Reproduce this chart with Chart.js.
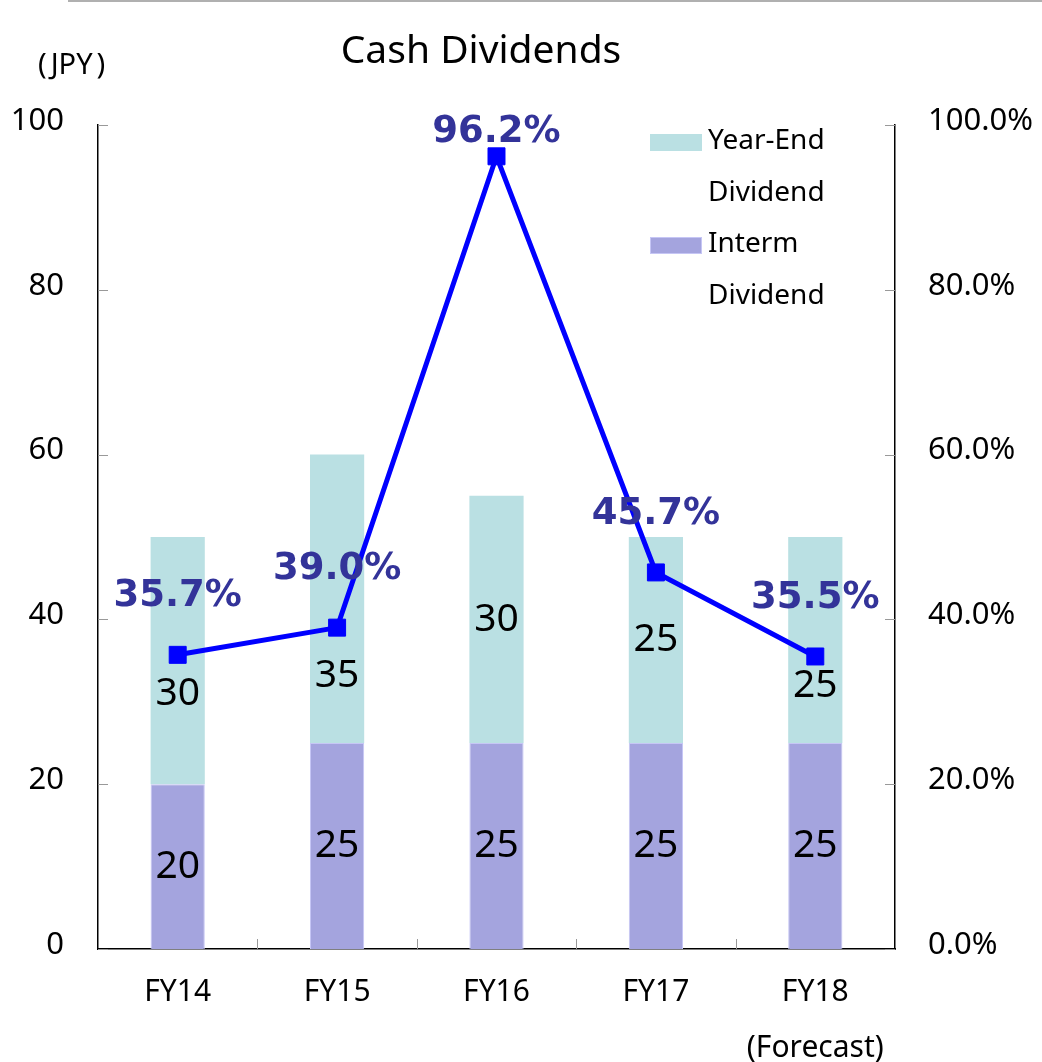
<!DOCTYPE html>
<html>
<head>
<meta charset="utf-8">
<script src="https://cdn.jsdelivr.net/npm/chart.js@4/dist/chart.umd.min.js"></script>
<style>
  body { margin: 0; background: #fff; }
  #wrap { position: relative; width: 1042px; height: 1062px; font-family: "Noto Sans", sans-serif; }
  #topline { position: absolute; left: 68px; top: 0; width: 974px; height: 2px; background: #b0b0b0; }
  #title { position: absolute; left: 281px; width: 400px; top: 21px; text-align: center; font-size: 39px; color: #000; }
  #unit { position: absolute; left: 38px; top: 43px; font-size: 29px; color: #000; }
  #unit span { margin: 0 4px; }
  .lg { position: absolute; font-size: 28px; color: #000; line-height: 52px; }
  .sw { position: absolute; width: 52px; height: 17px; }
</style>
</head>
<body>
<div id="wrap">
  <canvas id="chart" width="1042" height="1062"></canvas>
  <div id="topline"></div>
  <div id="title">Cash Dividends</div>
  <div id="unit">(<span>JPY</span>)</div>
  <div class="sw" style="left:650px;top:134px;background:#bae0e3"></div>
  <div class="lg" style="left:708px;top:112px">Year-End<br>Dividend</div>
  <div class="sw" style="left:650px;top:237px;background:#a4a4de;box-shadow:0 0 0 1px #c6c6f5 inset"></div>
  <div class="lg" style="left:708px;top:215px">Interm<br>Dividend</div>
</div>
<script>
// data
const years = [["FY14"], ["FY15"], ["FY16"], ["FY17"], ["FY18", "(Forecast)"]];
const intermDividend = [20, 25, 25, 25, 25];
const yearEndDividend = [30, 35, 30, 25, 25];
const payoutRatio = [35.7, 39.0, 96.2, 45.7, 35.5];
const yenTicks = [0, 20, 40, 60, 80, 100];

// label nudges so numbers don't sit under the line
const barLabelShift = [[0, 0, 0, 0, 0], [33, 77, 0, 0, 46]];
const ratioLabelShift = [-58, -58, -24, -58, -58];

const labelsPlugin = {
  id: "labels",
  afterDatasetsDraw(chart) {
    const ctx = chart.ctx;
    ctx.save();
    ctx.textAlign = "center";
    ctx.textBaseline = "middle";
    // bar values
    ctx.font = "39px 'Noto Sans'";
    ctx.fillStyle = "#000";
    [0, 1].forEach((di) => {
      const ds = chart.data.datasets[di];
      chart.getDatasetMeta(di).data.forEach((bar, i) => {
        const mid = (bar.y + bar.base) / 2;
        ctx.fillText(ds.data[i], bar.x, mid + barLabelShift[di][i]);
      });
    });
    // payout ratio
    ctx.font = "bold 37px 'DejaVu Sans'";
    ctx.fillStyle = "#333399";
    chart.getDatasetMeta(2).data.forEach((pt, i) => {
      ctx.fillText(payoutRatio[i].toFixed(1) + "%", pt.x, pt.y + ratioLabelShift[i]);
    });
    ctx.restore();
  },
  afterDraw(chart) {
    // short inside tick marks
    const ctx = chart.ctx;
    const area = chart.chartArea;
    ctx.save();
    ctx.strokeStyle = "#999";
    ctx.lineWidth = 1;
    ctx.beginPath();
    chart.scales.y.ticks.forEach((t) => {
      const y = Math.round(chart.scales.y.getPixelForValue(t.value)) + 0.5;
      ctx.moveTo(area.left, y); ctx.lineTo(area.left + 10, y);
      ctx.moveTo(area.right - 10, y); ctx.lineTo(area.right, y);
    });
    const x = chart.scales.x;
    for (let i = 1; i < years.length; i++) {
      const px = Math.round((x.getPixelForValue(i - 1) + x.getPixelForValue(i)) / 2) + 0.5;
      ctx.moveTo(px, area.bottom); ctx.lineTo(px, area.bottom - 10);
    }
    ctx.stroke();
    ctx.restore();
  }
};

new Chart(document.getElementById("chart"), {
  type: "bar",
  data: {
    labels: years,
    datasets: [
      {
        label: "Interm Dividend",
        data: intermDividend,
        backgroundColor: "#a4a4de",
        borderColor: "#c6c6f5",
        borderWidth: 1,
        categoryPercentage: 1,
        barPercentage: 0.34,
        yAxisID: "y",
        order: 2
      },
      {
        label: "Year-End Dividend",
        data: yearEndDividend,
        backgroundColor: "#bae0e3",
        borderWidth: 0,
        categoryPercentage: 1,
        barPercentage: 0.34,
        yAxisID: "y",
        order: 2
      },
      {
        type: "line",
        label: "Payout Ratio",
        data: payoutRatio,
        borderColor: "#0000ff",
        backgroundColor: "#0000ff",
        borderWidth: 5,
        pointStyle: "rect",
        pointRadius: 12,
        pointBorderWidth: 1,
        yAxisID: "y1",
        order: 1
      }
    ]
  },
  options: {
    responsive: false,
    animation: false,
    layout: { padding: { top: 125, left: 0, right: 0, bottom: 0 } },
    plugins: { legend: { display: false }, title: { display: false }, tooltip: { enabled: false } },
    scales: {
      x: {
        stacked: true,
        grid: { display: false },
        border: { color: "#000", width: 1.5 },
        ticks: { color: "#000", padding: 7, font: { family: "Noto Sans", size: 30, lineHeight: 1.87 } },
        afterFit(s) { s.height = 113; }
      },
      y: {
        stacked: true,
        position: "left",
        min: 0,
        max: 100,
        afterBuildTicks(s) { s.ticks = yenTicks.map((v) => ({ value: v })); },
        grid: { display: false },
        border: { color: "#000", width: 1.5 },
        ticks: { color: "#000", padding: 26, labelOffset: -4, font: { family: "Noto Sans", size: 31 } },
        afterFit(s) { s.width = 98; }
      },
      y1: {
        position: "right",
        min: 0,
        max: 100,
        afterBuildTicks(s) { s.ticks = yenTicks.map((v) => ({ value: v })); },
        grid: { display: false },
        border: { color: "#000", width: 1.5 },
        ticks: {
          color: "#000",
          padding: 25,
          labelOffset: -4,
          font: { family: "Noto Sans", size: 31 },
          callback: (v) => v.toFixed(1) + "%"
        },
        afterFit(s) { s.width = 147; }
      }
    }
  },
  plugins: [labelsPlugin]
});
</script>
</body>
</html>
